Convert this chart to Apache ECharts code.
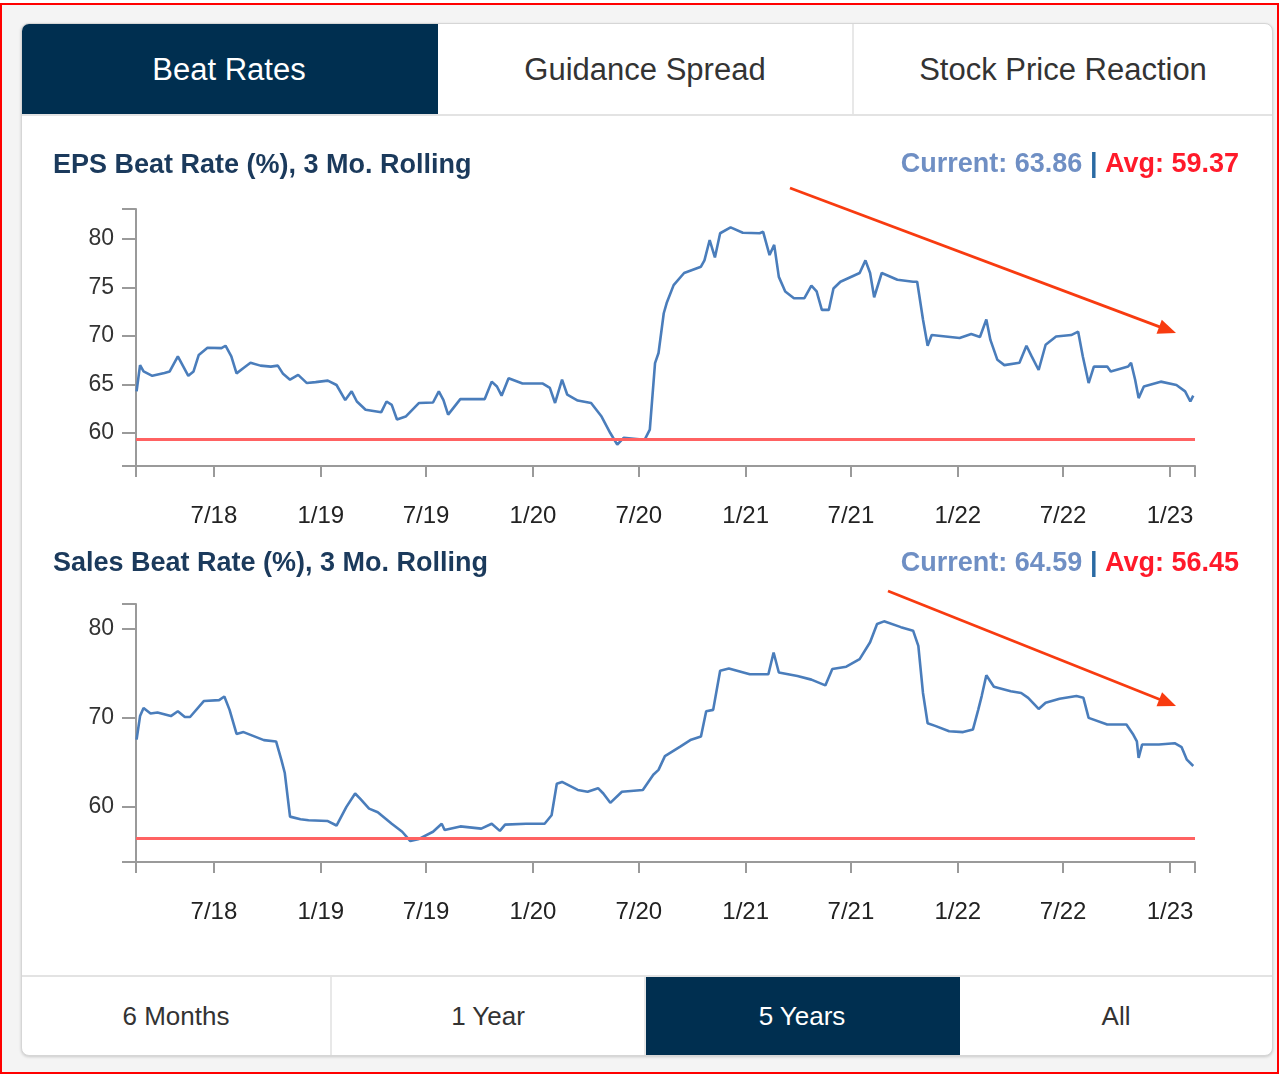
<!DOCTYPE html>
<html>
<head>
<meta charset="utf-8">
<title>Beat Rates</title>
<script src="https://cdn.jsdelivr.net/npm/echarts@6/dist/echarts.min.js"></script>
<style>
  html, body { margin: 0; padding: 0; background: #fff; }
  body { width: 1280px; height: 1074px; position: relative; overflow: hidden;
         font-family: 'Liberation Sans', Arial, sans-serif; }
  #frame { position: absolute; left: 0; top: 3px; width: 1279px; height: 1071px; box-sizing: border-box;
           border: 2px solid #ff0000; background: #f4f4f4; }
  #panel { position: absolute; left: 21px; top: 23px; width: 1252px; height: 1033px; box-sizing: border-box;
           background: #fff; border: 1px solid #d6d6d6; border-radius: 8px;
           box-shadow: 0 1px 3px rgba(0,0,0,0.18); overflow: hidden; }
  .tabs { position: absolute; left: 0; top: 0; right: 0; height: 90px; border-bottom: 2px solid #e3e3e3; display: flex; }
  .tab { display: flex; align-items: center; justify-content: center; font-size: 31px; color: #333;
         border-right: 2px solid #e8e8e8; box-sizing: border-box; padding-top: 2px; }
  .tab:last-child { border-right: none; }
  .ranges { position: absolute; left: 0; right: 0; bottom: 0; height: 78px; border-top: 2px solid #e3e3e3; display: flex; }
  .btn { display: flex; align-items: center; justify-content: center; font-size: 26px; color: #333;
         border-right: 2px solid #e8e8e8; box-sizing: border-box; }
  .btn:last-child { border-right: none; }
  .on { background: #002f50; color: #fff; border-right-color: #002f50; }
  #chart { position: absolute; left: 0; top: 0; width: 1280px; height: 1074px; z-index: 2; }
</style>
</head>
<body>
<div id="frame"></div>
<div id="panel">
  <div class="tabs">
    <div class="tab on" style="width:416px">Beat Rates</div>
    <div class="tab" style="width:416px">Guidance Spread</div>
    <div class="tab" style="flex:1">Stock Price Reaction</div>
  </div>
  <div class="ranges">
    <div class="btn" style="width:310px">6 Months</div>
    <div class="btn" style="width:314px">1 Year</div>
    <div class="btn on" style="width:314px">5 Years</div>
    <div class="btn" style="flex:1">All</div>
  </div>
</div>
<div id="chart"></div>

<script>
// EPS beat rate, 3 mo. rolling
const epsDates = ['2018-02-18','2018-02-24','2018-03-02','2018-03-17','2018-04-07','2018-04-16','2018-04-30','2018-05-18','2018-05-27','2018-06-05',
  '2018-06-20','2018-07-14','2018-07-21','2018-07-31','2018-08-09','2018-08-21','2018-09-02','2018-09-19','2018-10-07','2018-10-19',
  '2018-10-28','2018-11-09','2018-11-23','2018-12-08','2018-12-23','2019-01-13','2019-01-28','2019-02-12','2019-02-23','2019-03-04',
  '2019-03-19','2019-04-15','2019-04-24','2019-05-03','2019-05-12','2019-05-27','2019-06-19','2019-07-13','2019-07-23','2019-07-31',
  '2019-08-08','2019-08-29','2019-10-10','2019-10-22','2019-10-31','2019-11-08','2019-11-20','2019-12-14','2020-01-18','2020-01-30',
  '2020-02-08','2020-02-20','2020-02-29','2020-03-18','2020-04-10','2020-04-28','2020-05-13','2020-05-25','2020-06-05','2020-07-11',
  '2020-07-20','2020-07-29','2020-08-04','2020-08-13','2020-08-18','2020-08-30','2020-09-17','2020-10-16','2020-10-22','2020-10-31',
  '2020-11-09','2020-11-18','2020-12-06','2020-12-27','2021-01-25','2021-01-31','2021-02-11','2021-02-19','2021-02-27','2021-03-10',
  '2021-03-25','2021-04-12','2021-04-24','2021-05-03','2021-05-12','2021-05-24','2021-06-01','2021-06-13','2021-07-16','2021-07-26',
  '2021-08-03','2021-08-10','2021-08-23','2021-09-19','2021-10-16','2021-10-23','2021-11-02','2021-11-10','2021-11-17','2021-12-11',
  '2022-01-04','2022-01-24','2022-02-08','2022-02-19','2022-02-26','2022-03-10','2022-03-22','2022-04-17','2022-04-29','2022-05-08',
  '2022-05-20','2022-06-01','2022-06-19','2022-07-15','2022-07-27','2022-08-04','2022-08-14','2022-08-23','2022-09-15','2022-09-21',
  '2022-10-21','2022-10-26','2022-11-02','2022-11-08','2022-11-17','2022-12-16','2023-01-12','2023-01-27','2023-02-05','2023-02-10'];
const epsRates = [64.3,67.0,66.35,65.9,66.2,66.35,67.9,65.9,66.35,68.05,
  68.8,68.75,69.0,67.9,66.15,66.7,67.25,66.95,66.85,66.95,
  66.1,65.5,66.0,65.15,65.25,65.4,64.95,63.4,64.3,63.25,
  62.4,62.15,63.25,62.9,61.4,61.7,63.1,63.15,64.3,63.4,
  61.9,63.5,63.5,65.3,64.8,63.85,65.65,65.1,65.1,64.65,
  63.1,65.5,63.95,63.35,63.1,61.7,60.0,58.8,59.5,59.3,
  60.35,67.2,68.25,72.35,73.4,75.25,76.5,77.15,77.8,79.9,
  78.1,80.6,81.2,80.65,80.6,80.75,78.35,79.4,76.1,74.6,
  73.9,73.9,75.2,74.6,72.7,72.7,74.9,75.6,76.5,77.8,
  76.5,74.0,76.5,75.8,75.6,75.6,71.7,69.0,70.1,69.95,
  69.8,70.2,69.9,71.7,69.6,67.55,67.0,67.25,69.0,67.9,
  66.5,69.1,69.95,70.1,70.45,67.9,65.15,66.85,66.85,66.35,
  66.85,67.25,65.5,63.6,64.8,65.3,64.95,64.3,63.25,63.86];
const epsCurrent = 63.86;
const epsAvg = 59.37;

// Sales beat rate, 3 mo. rolling
const salesDates = ['2018-02-18','2018-02-24','2018-03-02','2018-03-14','2018-03-26','2018-04-18','2018-04-30','2018-05-12','2018-05-21','2018-06-14',
  '2018-07-10','2018-07-19','2018-07-28','2018-08-09','2018-08-21','2018-09-25','2018-10-16','2018-10-25','2018-10-31','2018-11-09',
  '2018-11-27','2018-12-11','2019-01-13','2019-01-28','2019-02-14','2019-03-01','2019-03-10','2019-03-25','2019-04-09','2019-05-03',
  '2019-05-21','2019-06-04','2019-06-19','2019-07-13','2019-07-28','2019-08-02','2019-08-29','2019-10-04','2019-10-22','2019-11-05',
  '2019-11-14','2019-12-20','2020-01-21','2020-02-02','2020-02-11','2020-02-20','2020-03-18','2020-04-04','2020-04-22','2020-05-01',
  '2020-05-13','2020-06-02','2020-07-08','2020-07-26','2020-08-04','2020-08-15','2020-09-11','2020-09-29','2020-10-16','2020-10-25',
  '2020-11-06','2020-11-18','2020-12-03','2021-01-08','2021-01-31','2021-02-09','2021-02-18','2021-02-27','2021-03-31','2021-04-24',
  '2021-05-18','2021-05-30','2021-06-23','2021-07-16','2021-08-03','2021-08-15','2021-08-27','2021-09-25','2021-10-16','2021-10-25',
  '2021-11-02','2021-11-10','2021-11-23','2021-12-17','2022-01-10','2022-01-27','2022-02-05','2022-02-11','2022-02-19','2022-03-04',
  '2022-04-02','2022-04-20','2022-05-02','2022-05-20','2022-06-01','2022-06-25','2022-07-24','2022-08-05','2022-08-14','2022-09-15',
  '2022-10-18','2022-10-30','2022-11-05','2022-11-08','2022-11-14','2022-12-13','2023-01-09','2023-01-21','2023-01-30','2023-02-10'];
const salesRates = [67.55,70.2,71.1,70.5,70.6,70.2,70.75,70.1,70.1,71.9,
  72.0,72.4,70.9,68.2,68.4,67.5,67.35,65.3,63.8,58.9,
  58.6,58.5,58.4,57.9,60.0,61.5,60.9,59.8,59.4,58.1,
  57.2,56.15,56.4,57.2,58.1,57.4,57.8,57.55,58.1,57.3,
  58.0,58.1,58.1,59.05,62.6,62.8,61.9,61.7,62.1,61.5,
  60.45,61.7,61.9,63.6,64.15,65.7,66.8,67.55,67.9,70.75,
  70.9,75.3,75.55,74.9,74.9,74.9,77.35,75.1,74.7,74.3,
  73.65,75.5,75.75,76.6,78.5,80.55,80.85,80.2,79.8,78.1,
  72.8,69.4,69.1,68.5,68.4,68.7,70.9,72.45,74.8,73.5,
  73.0,72.8,72.25,71.0,71.7,72.15,72.45,72.25,70.0,69.25,
  69.25,68.1,67.35,65.5,67.0,67.0,67.15,66.7,65.3,64.59];
const salesCurrent = 64.59;
const salesAvg = 56.45;

// axes
const xStart = '2018-02-17';
const xEnd = '2023-02-13';
const xTickDates = ['2018-07-01','2019-01-01','2019-07-01','2020-01-01','2020-07-01','2021-01-01','2021-07-01','2022-01-01','2022-07-01','2023-01-01'];
const epsTicks = [60, 65, 70, 75, 80];
const salesTicks = [60, 70, 80];

const FONT = "'Liberation Sans', Arial, sans-serif";
const AXIS_GREY = '#9a9a9a';

function ts(s) {
  const p = s.split('-');
  return new Date(+p[0], +p[1] - 1, +p[2]).getTime();
}

function mkX(idx) {
  const min = ts(xStart), max = ts(xEnd);
  const ticks = xTickDates.map(ts);
  return {
    type: 'value', gridIndex: idx, min: min, max: max,
    splitLine: { show: false },
    axisLine: { onZero: false, lineStyle: { color: AXIS_GREY, width: 2 } },
    axisTick: { show: true, length: 11, customValues: [min].concat(ticks, [max]),
                lineStyle: { color: AXIS_GREY, width: 2 } },
    axisLabel: {
      customValues: ticks, margin: 38, fontSize: 24, color: '#222', fontFamily: FONT,
      formatter: function (v) {
        const d = new Date(v);
        return (d.getMonth() + 1) + '/' + String(d.getFullYear()).slice(2);
      }
    }
  };
}

function mkY(idx, min, max, ticks) {
  return {
    type: 'value', gridIndex: idx, min: min, max: max,
    splitLine: { show: false },
    axisLine: { show: true, lineStyle: { color: AXIS_GREY, width: 2 } },
    axisTick: { show: true, length: 14, customValues: [min].concat(ticks, [max]),
                lineStyle: { color: AXIS_GREY, width: 2 } },
    axisLabel: { customValues: ticks, margin: 22, fontSize: 23, color: '#333', fontFamily: FONT }
  };
}

function mkSeries(idx, dates, vals, avg) {
  return {
    type: 'line', xAxisIndex: idx, yAxisIndex: idx,
    data: dates.map(function (d, i) { return [ts(d), vals[i]]; }),
    showSymbol: false, silent: true,
    lineStyle: { color: '#4a7dbb', width: 2.6 },
    markLine: {
      silent: true, symbol: 'none', label: { show: false },
      lineStyle: { color: '#ff6262', width: 3, type: 'solid' },
      data: [{ yAxis: avg }]
    }
  };
}

// annotation arrow (line + triangular head)
function arrow(x1, y1, x2, y2) {
  const color = '#f83b10';
  const dx = x2 - x1, dy = y2 - y1, len = Math.sqrt(dx * dx + dy * dy);
  const ux = dx / len, uy = dy / len;
  const hl = 18, hw = 7.5;
  const bx = x2 - ux * hl, by = y2 - uy * hl;
  return [
    { type: 'line', silent: true, z: 100,
      shape: { x1: x1, y1: y1, x2: bx + ux * 2, y2: by + uy * 2 },
      style: { stroke: color, lineWidth: 2.8 } },
    { type: 'polygon', silent: true, z: 100,
      shape: { points: [[x2, y2], [bx - uy * hw, by + ux * hw], [bx + uy * hw, by - ux * hw]] },
      style: { fill: color } }
  ];
}

function headline(text, top) {
  return { text: text, left: 53, top: top, padding: 0,
           textStyle: { fontSize: 27, fontWeight: 'bold', color: '#1b3a5c', fontFamily: FONT, lineHeight: 32 } };
}

function stats(cur, avg, top) {
  return {
    text: '{c|Current: ' + cur.toFixed(2) + ' }{s||}{a| Avg: ' + avg.toFixed(2) + '}',
    right: 41, top: top, padding: 0,
    textStyle: {
      fontFamily: FONT, lineHeight: 32,
      rich: {
        c: { fontSize: 27, fontWeight: 'bold', color: '#6f8fc4', fontFamily: FONT, lineHeight: 32 },
        s: { fontSize: 27, fontWeight: 'bold', color: '#2a6aa3', fontFamily: FONT, lineHeight: 32 },
        a: { fontSize: 27, fontWeight: 'bold', color: '#ff1a2a', fontFamily: FONT, lineHeight: 32 }
      }
    }
  };
}

const chart = echarts.init(document.getElementById('chart'), null, { renderer: 'canvas', width: 1280, height: 1074 });

const option = {
  animation: false,
  backgroundColor: 'transparent',
  textStyle: { fontFamily: FONT },
  title: [
    headline('EPS Beat Rate (%), 3 Mo. Rolling', 150),
    stats(epsCurrent, epsAvg, 149),
    headline('Sales Beat Rate (%), 3 Mo. Rolling', 548),
    stats(salesCurrent, salesAvg, 548)
  ],
  grid: [
    { left: 136, top: 209, width: 1059, height: 257 },
    { left: 136, top: 604, width: 1059, height: 258 }
  ],
  xAxis: [mkX(0), mkX(1)],
  yAxis: [mkY(0, 56.6, 83.1, epsTicks), mkY(1, 53.8, 82.8, salesTicks)],
  series: [
    mkSeries(0, epsDates, epsRates, epsAvg),
    mkSeries(1, salesDates, salesRates, salesAvg)
  ],
  graphic: arrow(790, 188, 1176, 333).concat(arrow(888, 591, 1176, 706))
};

chart.setOption(option);
</script>
</body>
</html>
